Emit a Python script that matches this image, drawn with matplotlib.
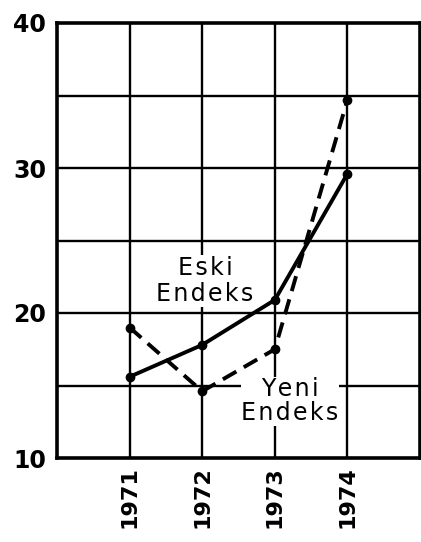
import numpy as np
import matplotlib
matplotlib.use("Agg")
import matplotlib.pyplot as plt

years = ["1971", "1972", "1973", "1974"]
eski = [15.6, 17.8, 20.9, 29.6]
yeni = [19.0, 14.6, 17.5, 34.7]
y_major = [10, 20, 30, 40]
y_minor = [15, 25, 35]

plt.rcParams['font.family'] = ['DejaVu Sans']

HS = "\u200a"  # hair space, for the spread-out lettering


def spread(s):
    return "\n".join(HS.join(line) for line in s.split("\n"))


fig = plt.figure(figsize=(4.21, 5.42), dpi=100)
ax = fig.add_axes([57 / 421, (542 - 458) / 542, (420 - 57) / 421, (458 - 23) / 542])

x = np.arange(1, len(years) + 1)

ax.set_xlim(0, 5)
ax.set_ylim(10, 40)

# grid
for xv in x:
    ax.axvline(xv, color="black", lw=1.7, zorder=1)
for yv in y_major[1:-1] + y_minor:
    ax.axhline(yv, color="black", lw=1.7, zorder=1)

ax.plot(x, eski, color="black", lw=2.8, marker="o", ms=6, zorder=3,
        solid_capstyle="butt")
ax.plot(x, yeni, color="black", lw=2.8, marker="o", ms=6, zorder=3,
        dashes=(4, 2.2))

ax.text(2.04, 22.2, spread("Eski\nEndeks"), ha="center", va="center", fontsize=17,
        linespacing=1.1, zorder=4,
        bbox=dict(facecolor="white", edgecolor="none", pad=1))
ax.text(3.21, 13.9, spread("Yeni\nEndeks"), ha="center", va="center", fontsize=17,
        linespacing=1.0, zorder=4,
        bbox=dict(facecolor="white", edgecolor="none", pad=0.5))

ax.set_xticks(x)
ax.set_xticklabels(years, rotation=90, fontsize=16, fontweight="bold")
ax.set_yticks(y_major)
ax.set_yticklabels([str(v) for v in y_major], fontsize=17, fontweight="bold")
ax.tick_params(length=0, pad=8)
ax.tick_params(axis="x", pad=6)

for s in ax.spines.values():
    s.set_linewidth(2.6)
    s.set_zorder(5)

fig.savefig("out.png", dpi=100)
